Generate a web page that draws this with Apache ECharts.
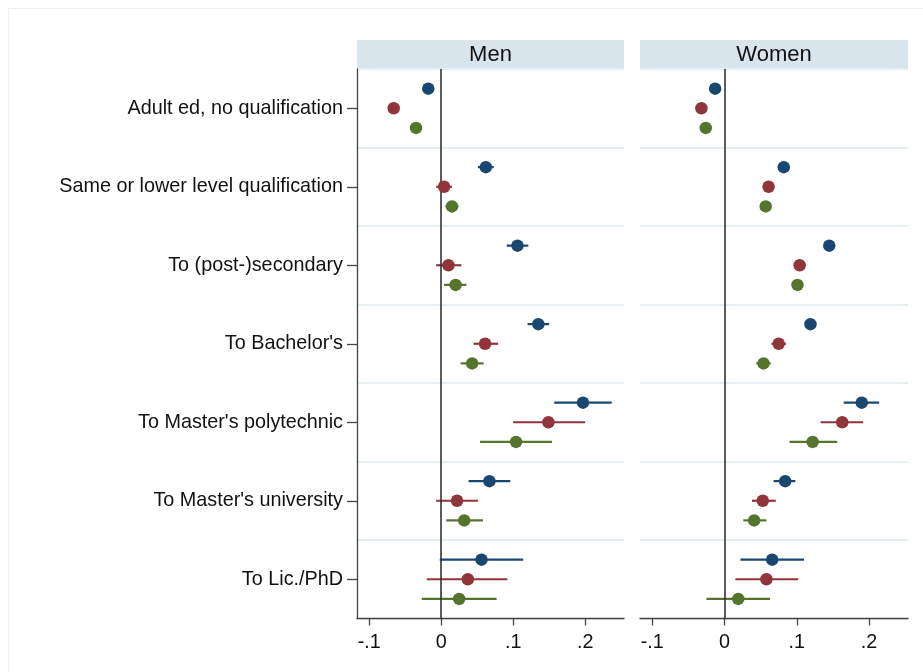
<!DOCTYPE html>
<html>
<head>
<meta charset="utf-8">
<script src="https://cdn.jsdelivr.net/npm/echarts@6/dist/echarts.min.js"></script>
<style>
  html, body { margin: 0; padding: 0; background: #ffffff; }
  #chart { width: 923px; height: 672px; }
</style>
</head>
<body>
<div id="chart"></div>
<script>
const categories = [
  "Adult ed, no qualification",
  "Same or lower level qualification",
  "To (post-)secondary",
  "To Bachelor's",
  "To Master's polytechnic",
  "To Master's university",
  "To Lic./PhD"
];
const panelTitles = ["Men", "Women"];
const xTicks = [-0.1, 0, 0.1, 0.2];
const xTickLabels = ["-.1", "0", ".1", ".2"];

// Men
const menBlue = [-0.018, 0.062, 0.106, 0.135, 0.197, 0.067, 0.056];
const menBlueLo = [-0.022, 0.051, 0.091, 0.120, 0.157, 0.038, -0.002];
const menBlueHi = [-0.014, 0.073, 0.121, 0.150, 0.237, 0.096, 0.114];
const menRed = [-0.066, 0.004, 0.010, 0.061, 0.149, 0.022, 0.037];
const menRedLo = [-0.070, -0.007, -0.007, 0.045, 0.100, -0.007, -0.020];
const menRedHi = [-0.062, 0.015, 0.028, 0.079, 0.200, 0.051, 0.092];
const menGreen = [-0.035, 0.015, 0.020, 0.043, 0.104, 0.032, 0.025];
const menGreenLo = [-0.039, 0.006, 0.004, 0.027, 0.054, 0.007, -0.027];
const menGreenHi = [-0.031, 0.024, 0.035, 0.059, 0.154, 0.058, 0.077];

// Women
const womenBlue = [-0.013, 0.082, 0.145, 0.119, 0.190, 0.084, 0.066];
const womenBlueLo = [-0.017, 0.077, 0.140, 0.113, 0.165, 0.068, 0.022];
const womenBlueHi = [-0.009, 0.087, 0.150, 0.125, 0.214, 0.098, 0.110];
const womenRed = [-0.032, 0.061, 0.104, 0.075, 0.163, 0.053, 0.058];
const womenRedLo = [-0.036, 0.056, 0.097, 0.065, 0.133, 0.038, 0.015];
const womenRedHi = [-0.028, 0.066, 0.111, 0.085, 0.192, 0.071, 0.102];
const womenGreen = [-0.026, 0.057, 0.101, 0.054, 0.122, 0.041, 0.019];
const womenGreenLo = [-0.030, 0.052, 0.095, 0.044, 0.090, 0.026, -0.025];
const womenGreenHi = [-0.022, 0.062, 0.107, 0.064, 0.156, 0.058, 0.063];

const colors = ["#1a476f", "#90353b", "#55752f"];
const rowOffsets = [-0.25, 0, 0.25];
const FONT = "'Liberation Sans', Arial, sans-serif";

const panels = [
  [
    { est: menBlue, lo: menBlueLo, hi: menBlueHi },
    { est: menRed, lo: menRedLo, hi: menRedHi },
    { est: menGreen, lo: menGreenLo, hi: menGreenHi }
  ],
  [
    { est: womenBlue, lo: womenBlueLo, hi: womenBlueHi },
    { est: womenRed, lo: womenRedLo, hi: womenRedHi },
    { est: womenGreen, lo: womenGreenLo, hi: womenGreenHi }
  ]
];

const grids = [
  { left: 357, top: 69, width: 267, height: 549.5 },
  { left: 640, top: 69, width: 268, height: 549.5 }
];

const axisColor = "#444444";

const xAxes = grids.map((g, i) => ({
  type: "value",
  gridIndex: i,
  min: -0.117,
  max: 0.254,
  axisLine: { show: true, onZero: false, lineStyle: { color: axisColor, width: 1.3 } },
  axisTick: { show: true, length: 7, customValues: xTicks, lineStyle: { color: axisColor, width: 1.3 } },
  axisLabel: {
    customValues: xTicks,
    margin: 14,
    fontSize: 19.8,
    fontFamily: FONT,
    color: "#111111",
    formatter: (v) => xTickLabels[xTicks.findIndex((t) => Math.abs(t - v) < 1e-9)]
  },
  splitLine: { show: false }
}));

const yAxes = [];
grids.forEach((g, i) => {
  yAxes.push({
    type: "category",
    gridIndex: i,
    data: categories,
    inverse: true,
    boundaryGap: true,
    axisLine: { show: i === 0, onZero: false, lineStyle: { color: axisColor, width: 1.3 } },
    axisTick: { show: i === 0, alignWithLabel: true, length: 10, lineStyle: { color: axisColor, width: 1.3 } },
    axisLabel: { show: i === 0, margin: 14, fontSize: 19.8, fontFamily: FONT, color: "#111111" },
    splitLine: { show: true, lineStyle: { color: "#e6eff2", width: 2 } }
  });
  yAxes.push({
    type: "value",
    gridIndex: i,
    min: 0.5,
    max: 7.5,
    inverse: true,
    show: false
  });
});

const series = [];
panels.forEach((groups, p) => {
  groups.forEach((grp, k) => {
    const ciData = grp.est.map((_, r) => [grp.lo[r], grp.hi[r], r + 1 + rowOffsets[k]]);
    const ci = {
      type: "custom",
      name: panelTitles[p] + " CI " + (k + 1),
      xAxisIndex: p,
      yAxisIndex: p * 2 + 1,
      data: ciData,
      encode: { x: [0, 1], y: 2 },
      z: 3,
      silent: true,
      renderItem: (params, api) => {
        const y = api.value(2);
        const a = api.coord([api.value(0), y]);
        const b = api.coord([api.value(1), y]);
        return {
          type: "line",
          shape: { x1: a[0], y1: a[1], x2: b[0], y2: b[1] },
          style: { stroke: colors[k], lineWidth: 2.2 }
        };
      }
    };
    if (k === 0) {
      ci.markLine = {
        silent: true,
        symbol: "none",
        label: { show: false },
        lineStyle: { color: "#333333", width: 1.6, type: "solid" },
        data: [{ xAxis: 0 }]
      };
    }
    series.push(ci);
  });
  groups.forEach((grp, k) => {
    series.push({
      type: "scatter",
      name: panelTitles[p] + " " + (k + 1),
      xAxisIndex: p,
      yAxisIndex: p * 2 + 1,
      data: grp.est.map((v, r) => [v, r + 1 + rowOffsets[k]]),
      symbol: "circle",
      symbolSize: 12.5,
      itemStyle: { color: colors[k], opacity: 1 },
      z: 5,
      silent: true
    });
  });
});

const stripGraphics = [];
grids.forEach((g, i) => {
  stripGraphics.push({
    type: "rect",
    shape: { x: g.left, y: 40, width: g.width, height: 29 },
    style: { fill: "#d9e5ec" },
    silent: true
  });
  stripGraphics.push({
    type: "text",
    x: g.left + g.width / 2,
    y: 54.5,
    style: {
      text: panelTitles[i],
      fill: "#111111",
      font: "22px " + FONT,
      textAlign: "center",
      textVerticalAlign: "middle"
    },
    silent: true
  });
});

const chart = echarts.init(document.getElementById("chart"), null, { renderer: "canvas" });
chart.setOption({
  backgroundColor: "#ffffff",
  animation: false,
  grid: grids,
  xAxis: xAxes,
  yAxis: yAxes,
  series: series,
  graphic: [
    {
      type: "rect",
      shape: { x: 8.5, y: 8.5, width: 930, height: 680 },
      style: { fill: null, stroke: "#efefef", lineWidth: 1 },
      silent: true,
      z: -10
    }
  ].concat(stripGraphics)
});
</script>
</body>
</html>
